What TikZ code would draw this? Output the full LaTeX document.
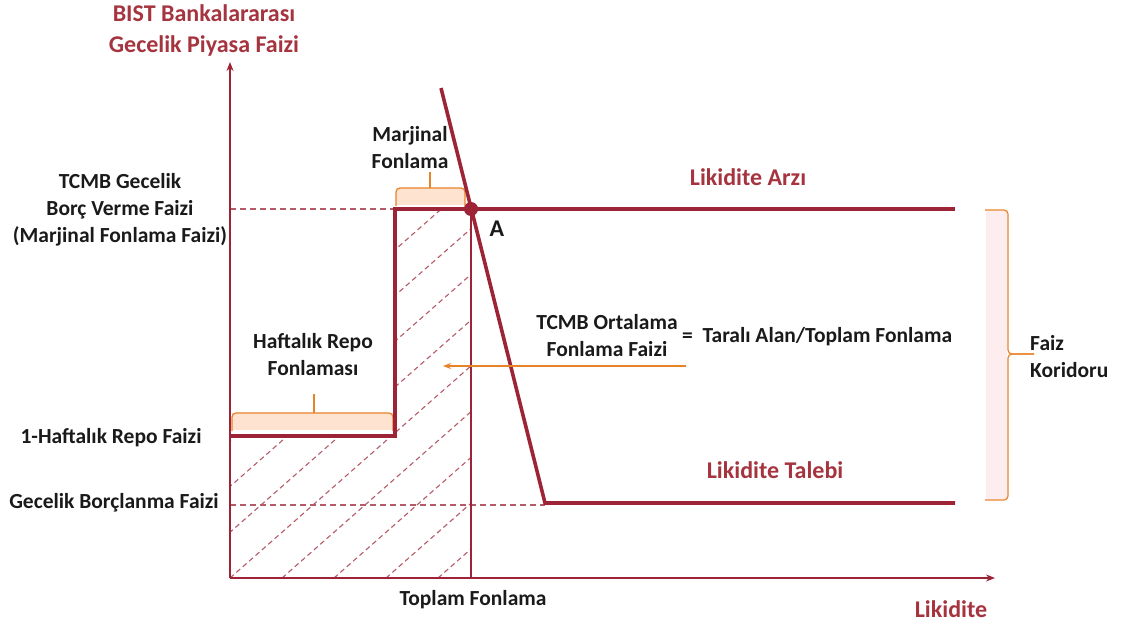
\documentclass[tikz,border=0pt]{standalone}
\usepackage{fontspec}
\setmainfont{Carlito}
\usetikzlibrary{arrows.meta}
\definecolor{dred}{HTML}{9C2436}
\definecolor{tred}{HTML}{A5343F}
\definecolor{org}{HTML}{E8832A}
\definecolor{peach}{HTML}{FDE3D0}
\definecolor{pinkf}{HTML}{FDEDEF}
\definecolor{hatchc}{HTML}{B45A68}
\definecolor{txt}{HTML}{1A1A1A}
\begin{document}
\begin{tikzpicture}[x=1pt,y=-1pt,
 lbl/.style={font=\fontsize{21.5}{27}\selectfont\bfseries, text=txt, inner sep=0pt, align=center},
 rlbl/.style={font=\fontsize{24}{31}\selectfont\bfseries, text=tred, inner sep=0pt, align=center},
 curve/.style={draw=dred, line width=3.6pt},
 axisline/.style={draw=dred, line width=2.8pt, -{Stealth[length=9pt,width=7pt]}},
 guide/.style={draw=dred!75, line width=1.3pt, dash pattern=on 6pt off 4pt},
 hatchline/.style={draw=hatchc, line width=1.1pt, dash pattern=on 5pt off 3.5pt},
 bracketline/.style={draw=org, line width=1.2pt, rounded corners=4pt},
]
\useasboundingbox (0,0) rectangle (1139,623);
% key coordinates
\coordinate (O) at (230,578);
\coordinate (ytip) at (230,62);
\coordinate (xtip) at (995,578);
\coordinate (s0) at (230,436);
\coordinate (s1) at (395,436);
\coordinate (s2) at (395,209);
\coordinate (s3) at (955,209);
\coordinate (d0) at (441,88);
\coordinate (d1) at (545,503);
\coordinate (d2) at (955,503);
\coordinate (A) at (471,209);
\coordinate (tf) at (471,578);
\coordinate (mfl) at (230,209);
\coordinate (gbl) at (230,505);
\coordinate (gbr) at (545,505);
\coordinate (arS) at (686,366);
\coordinate (arE) at (443,366);

% hatched area
\begin{scope}
\clip (O) -- (s0) -- (s1) -- (s2) -- (A) -- (tf) -- cycle;
\foreach \k in {-12,...,6}{
  \draw[hatchline] ({230+52*\k},578) -- ({230+52*\k+700},{578-616});
}
\end{scope}

% brackets
\fill[peach] (232,413) rectangle (393,430);
\draw[bracketline] (232,431) -- (232,413) -- (393,413) -- (393,431);
\draw[org, line width=1.2pt] (314,413) -- (314,394);
\fill[peach] (396,188) rectangle (465,205);
\draw[bracketline] (396,206) -- (396,188) -- (465,188) -- (465,206);
\draw[org, line width=1.2pt] (430,188) -- (430,172);

% corridor brace
\fill[pinkf] (986,211) rectangle (1007,499);
\draw[bracketline] (985,210) -- (1008,210) -- (1008,354) -- (1034,354);
\draw[bracketline] (1034,354) -- (1008,354) -- (1008,500) -- (985,500);

% guides
\draw[guide] (mfl) -- (s2);
\draw[guide] (gbl) -- (gbr);
\draw[dred, line width=1.3pt] (A) -- (tf);

% axes
\draw[axisline] (O) -- (ytip);
\draw[axisline] (O) -- (xtip);

% curves
\draw[curve, line join=miter] (s0) -- (s1) -- (s2) -- (s3);
\draw[curve, line join=miter] (d0) -- (d1) -- (d2);
\fill[dred] (A) circle (7pt);

% arrow
\draw[org, line width=1.4pt, -{Stealth[length=8pt,width=6pt]}] (arS) -- (arE);

% labels
\node[rlbl] (ylab) at (204,30) {BIST Bankalararası\\Gecelik Piyasa Faizi};
\node[lbl] (tcmb) at (120,210) {TCMB Gecelik\\Borç Verme Faizi\\(Marjinal Fonlama Faizi)};
\node[lbl] (repo) at (111,438) {1-Haftalık Repo Faizi};
\node[lbl] (gb) at (114,503) {Gecelik Borçlanma Faizi};
\node[lbl] (mf) at (410,148) {Marjinal\\Fonlama};
\node[lbl] (hr) at (313,355) {Haftalık Repo\\Fonlaması};
\node[lbl, font=\fontsize{24}{24}\selectfont\bfseries] (Alab) at (497,229) {A};
\node[rlbl] (arz) at (748,177) {Likidite Arzı};
\node[rlbl] (talep) at (775,470) {Likidite Talebi};
\node[lbl] (ort) at (607,336) {TCMB Ortalama\\Fonlama Faizi};
\node[lbl, anchor=west] (eq) at (682,337) {=\ \ Taralı Alan/Toplam Fonlama};
\node[lbl] (top) at (473,600) {Toplam Fonlama};
\node[rlbl] (lik) at (951,609) {Likidite};
\node[lbl, anchor=west, align=left] (fk) at (1030,357) {Faiz\\Koridoru};
\end{tikzpicture}
\end{document}
